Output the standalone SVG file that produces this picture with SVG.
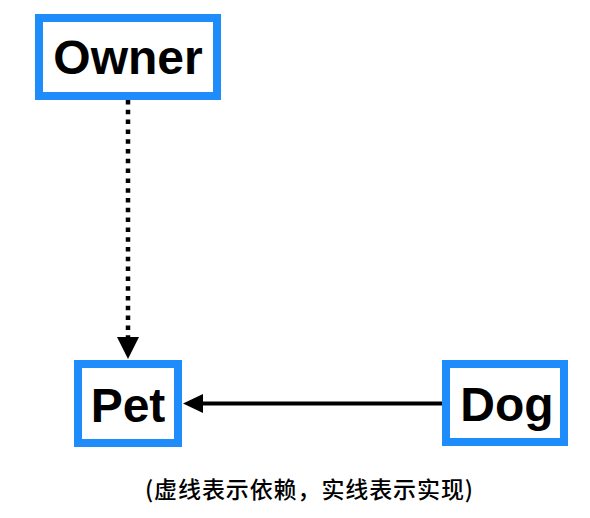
<svg xmlns="http://www.w3.org/2000/svg" width="590" height="518" viewBox="0 0 590 518">
<defs>
<style>
.box{fill:#fff;stroke:#1E8CFA;stroke-width:8}
.lbl{font-family:"Liberation Sans",Arial,sans-serif;font-weight:bold;font-size:48px;fill:#000;text-anchor:middle}
.cap{font-family:"Noto Sans CJK SC",sans-serif;font-size:23px;font-weight:500;fill:#000;text-anchor:middle}
.edge{stroke:#000;fill:none}
</style>
</defs>
<rect width="590" height="518" fill="#fff"/>
<g id="connectors">
<line class="edge" x1="128" y1="100" x2="128" y2="338" stroke-width="4.5" stroke-dasharray="4.5 5.3"/>
<polygon points="117,337 139,337 128,359" fill="#000"/>
<line class="edge" x1="200" y1="403.5" x2="442" y2="403.5" stroke-width="4"/>
<polygon points="183,403.5 203,394 203,413" fill="#000"/>
</g>
<g id="owner">
<rect class="box" x="39" y="18" width="178" height="78"/>
<text class="lbl" x="128" y="74">Owner</text>
</g>
<g id="pet">
<rect class="box" x="78" y="364" width="100" height="79"/>
<text class="lbl" x="128" y="422">Pet</text>
</g>
<g id="dog">
<rect class="box" x="446" y="364" width="118" height="78"/>
<text class="lbl" x="507" y="421">Dog</text>
</g>
<text class="cap" x="309" y="498" textLength="328" lengthAdjust="spacing">(虚线表示依赖，实线表示实现)</text>
</svg>
